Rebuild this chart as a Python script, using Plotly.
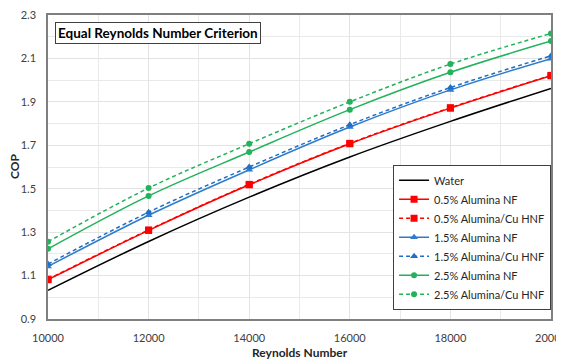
import plotly.graph_objects as go

reynolds = [10000, 12000, 14000, 16000, 18000, 20000]
water = [1.032, 1.257, 1.461, 1.646, 1.810, 1.962]
nf_05 = [1.081, 1.308, 1.518, 1.707, 1.871, 2.020]
hnf_05 = [1.083, 1.310, 1.520, 1.709, 1.873, 2.022]
nf_15 = [1.142, 1.378, 1.587, 1.784, 1.955, 2.099]
hnf_15 = [1.153, 1.392, 1.600, 1.795, 1.966, 2.112]
nf_25 = [1.223, 1.467, 1.669, 1.864, 2.036, 2.180]
hnf_25 = [1.256, 1.503, 1.707, 1.900, 2.074, 2.215]

x_ticks = [10000, 12000, 14000, 16000, 18000, 20000]
y_ticks = [0.9, 1.1, 1.3, 1.5, 1.7, 1.9, 2.1, 2.3]

FONT = "Lato"
fig = go.Figure()

series = [
    ("Water", water, "#000000", "solid", None),
    ("0.5% Alumina NF", nf_05, "#FF0000", "solid", "square"),
    ("0.5% Alumina/Cu HNF", hnf_05, "#FF0000", "4px,3px", "square"),
    ("1.5% Alumina NF", nf_15, "#2E7BCB", "solid", "triangle-up"),
    ("1.5% Alumina/Cu HNF", hnf_15, "#1F6FC5", "4px,3px", "triangle-up"),
    ("2.5% Alumina NF", nf_25, "#21B25A", "solid", "circle"),
    ("2.5% Alumina/Cu HNF", hnf_25, "#21B25A", "4px,3px", "circle"),
]

for name, ys, color, dash, sym in series:
    if sym is None:
        fig.add_trace(go.Scatter(x=reynolds, y=ys, name=name, mode="lines",
                                 line=dict(color=color, width=1.5, dash=dash, shape="spline")))
    else:
        fig.add_trace(go.Scatter(x=reynolds, y=ys, name=name, mode="lines+markers",
                                 line=dict(color=color, width=1.5, dash=dash, shape="spline"),
                                 marker=dict(symbol=sym, size=7 if sym != "circle" else 6, color=color)))

# the page body adds an 8px offset, so margins are shifted to compensate
fig.update_layout(
    width=564, height=360,
    margin=dict(l=40, r=21, t=7, b=49),
    paper_bgcolor="white", plot_bgcolor="white",
    font=dict(family=FONT, size=11, color="#404040"),
    showlegend=True,
    legend=dict(x=0.686, y=0.507, xanchor="left", yanchor="top",
                bgcolor="white", bordercolor="#404040", borderwidth=1,
                font=dict(family=FONT, size=11, color="#262626"),
                tracegroupgap=0, itemwidth=30),
    annotations=[
        dict(text="<b>Equal Reynolds Number Criterion</b>",
             xref="paper", yref="paper", x=0.014, y=0.976, xanchor="left", yanchor="top",
             showarrow=False, font=dict(family=FONT, size=13.5, color="#000000"),
             bordercolor="#404040", borderwidth=1, borderpad=2, bgcolor="white"),
        dict(text="<b>Reynolds Number</b>", xref="paper", yref="paper",
             x=0.5, y=0.0, yshift=-33, xanchor="center", yanchor="middle",
             showarrow=False, font=dict(family=FONT, size=12, color="#262626")),
        dict(text="<b>COP</b>", xref="paper", yref="paper", textangle=-90,
             x=0, xshift=-34, y=0.5, xanchor="center", yanchor="middle",
             showarrow=False, font=dict(family=FONT, size=12, color="#262626")),
    ],
)

fig.update_xaxes(
    range=[10000, 20000], tickvals=x_ticks, ticktext=[str(v) for v in x_ticks],
    showgrid=True, gridcolor="#E3E3E3", gridwidth=1,
    minor=dict(dtick=1000, showgrid=True, gridcolor="#E9E9E9", gridwidth=1),
    showline=True, linecolor="#7F7F7F", linewidth=1.5, mirror=True,
    ticks="", zeroline=False, automargin=False, ticklabeloverflow="allow",
    ticklabelstandoff=8,
    tickfont=dict(family=FONT, size=11, color="#404040"),
)
fig.update_yaxes(
    range=[0.9, 2.3], tickvals=y_ticks, ticktext=[f"{v:.1f}" for v in y_ticks],
    showgrid=True, gridcolor="#E3E3E3", gridwidth=1,
    minor=dict(dtick=0.1, tick0=0.9, showgrid=True, gridcolor="#E9E9E9", gridwidth=1),
    showline=True, linecolor="#7F7F7F", linewidth=1.5, mirror=True,
    ticks="", zeroline=False, automargin=False, ticklabeloverflow="allow",
    ticklabelstandoff=8,
    tickfont=dict(family=FONT, size=11, color="#404040"),
)

fig.write_html("out.html")
